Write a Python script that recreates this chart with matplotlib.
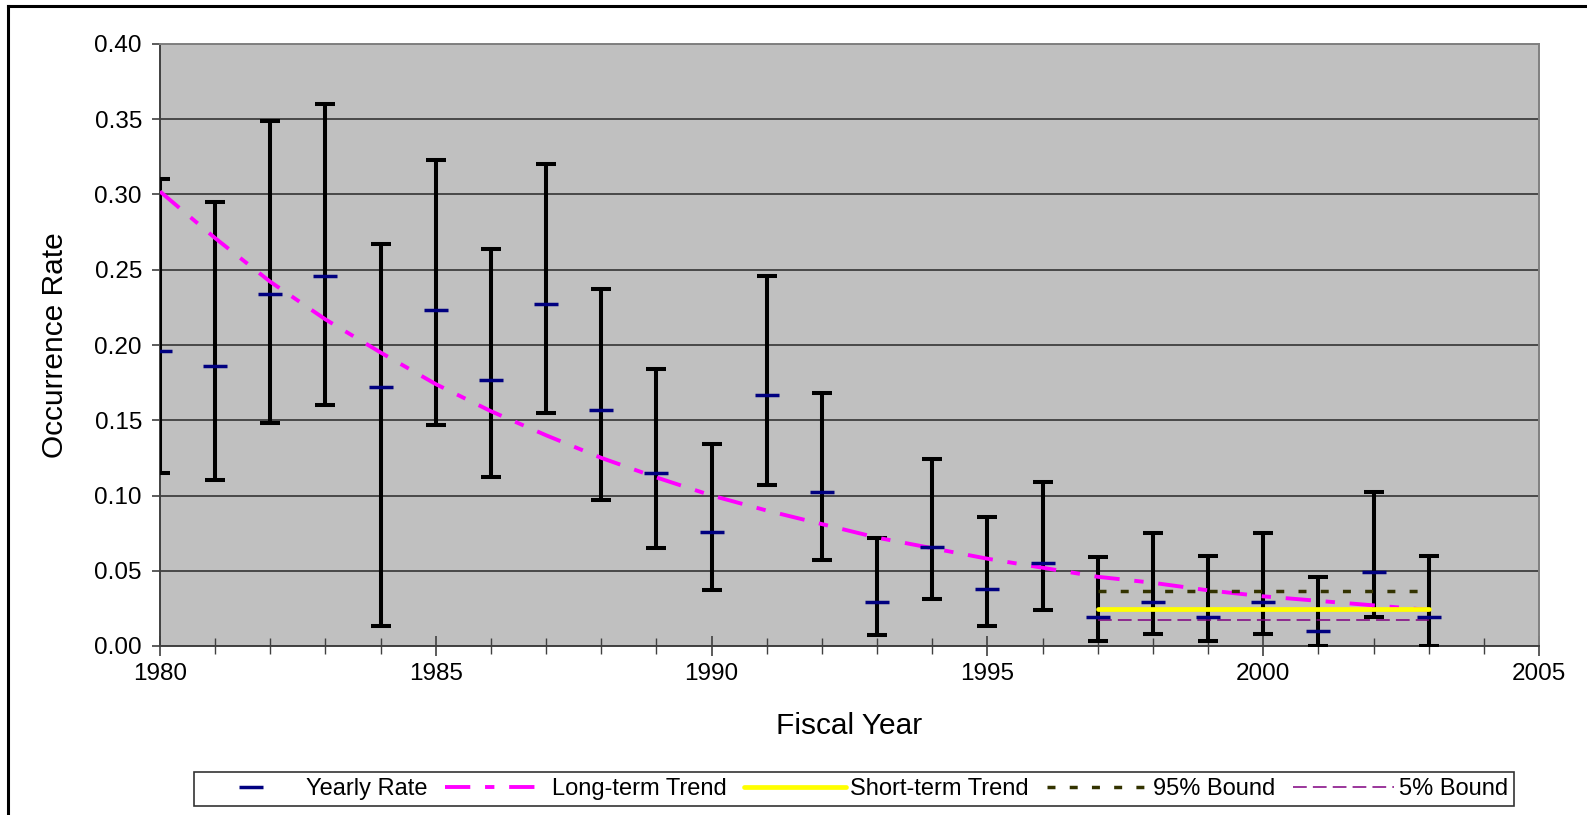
import matplotlib
matplotlib.use('Agg')
import matplotlib.pyplot as plt
from matplotlib.lines import Line2D
from matplotlib.ticker import MultipleLocator, FormatStrFormatter

plt.rcParams['font.family'] = ['Liberation Sans', 'DejaVu Sans']

years = [1980, 1981, 1982, 1983, 1984, 1985, 1986, 1987, 1988, 1989, 1990, 1991,
         1992, 1993, 1994, 1995, 1996, 1997, 1998, 1999, 2000, 2001, 2002, 2003]
rate = [0.196, 0.186, 0.234, 0.246, 0.172, 0.223, 0.177, 0.227, 0.157, 0.115, 0.076, 0.167,
        0.102, 0.029, 0.066, 0.038, 0.055, 0.0195, 0.029, 0.0195, 0.029, 0.010, 0.049, 0.0195]
upper = [0.310, 0.295, 0.349, 0.360, 0.267, 0.323, 0.264, 0.320, 0.237, 0.184, 0.134, 0.246,
         0.168, 0.072, 0.124, 0.086, 0.109, 0.059, 0.075, 0.060, 0.075, 0.046, 0.102, 0.060]
lower = [0.115, 0.110, 0.148, 0.160, 0.013, 0.147, 0.112, 0.155, 0.097, 0.065, 0.037, 0.107,
         0.057, 0.007, 0.031, 0.013, 0.024, 0.003, 0.008, 0.003, 0.008, 0.000, 0.019, 0.000]
trend = [0.302, 0.271, 0.242, 0.217, 0.195, 0.174, 0.156, 0.140, 0.125, 0.112, 0.100, 0.090,
         0.081, 0.072, 0.065, 0.058, 0.052, 0.046, 0.042, 0.037, 0.033, 0.030, 0.027, 0.024]

short_years = [1997, 2003]
short_trend = [0.0248, 0.0248]
bound_95 = [0.0364, 0.0364]
bound_5 = [0.0171, 0.0171]

MAGENTA_DASH = (0, (6.5, 3.8, 2.4, 3.8))
OLIVE_DASH = (0, (2.3, 4.1))
PURPLE_DASH = (0, (9, 4))

fig = plt.figure(figsize=(15.87, 8.15), dpi=100)
ax = fig.add_axes([160 / 1587, 1 - 646 / 815, 1379 / 1587, 602 / 815])
ax.set_facecolor('#c0c0c0')

yerr = [[r - lo for r, lo in zip(rate, lower)], [up - r for r, up in zip(rate, upper)]]
ax.errorbar(years, rate, yerr=yerr, fmt='none', ecolor='black', elinewidth=2.9,
            capsize=7.5, capthick=2.9, zorder=3)
ax.plot(years, trend, color='#ff00ff', lw=2.8, linestyle=MAGENTA_DASH, zorder=4)
ax.plot(short_years, short_trend, color='#ffff00', lw=3.4, solid_capstyle='round', zorder=5)
ax.plot(short_years, bound_95, color='#333300', lw=2.5, linestyle=OLIVE_DASH, zorder=5)
ax.plot(short_years, bound_5, color='#800080', lw=1.1, linestyle=PURPLE_DASH, zorder=5)
ax.plot(years, rate, linestyle='none', marker='_', markersize=17, mew=2.5,
        color='#000080', zorder=6)

ax.set_xlim(1980, 2005)
ax.set_ylim(0, 0.40)
ax.xaxis.set_major_locator(MultipleLocator(5))
ax.xaxis.set_minor_locator(MultipleLocator(1))
ax.yaxis.set_major_locator(MultipleLocator(0.05))
ax.yaxis.set_major_formatter(FormatStrFormatter('%.2f'))
ax.grid(axis='y', color='#484848', lw=1.4, zorder=1)
ax.set_axisbelow(True)

for side in ['left', 'bottom']:
    ax.spines[side].set_color('#404040')
    ax.spines[side].set_linewidth(1.4)
for side in ['top', 'right']:
    ax.spines[side].set_color('#808080')
    ax.spines[side].set_linewidth(1.4)

ax.tick_params(axis='y', direction='out', length=6, width=1.2, color='#404040',
               labelsize=17.5, pad=7)
ax.tick_params(axis='x', which='major', direction='inout', length=14, width=1.2,
               color='#404040', labelsize=17.5, pad=5)
ax.tick_params(axis='x', which='minor', direction='inout', length=11, width=1.0,
               color='#404040')

ax.set_xlabel('Fiscal Year', fontsize=21.5)
ax.set_ylabel('Occurrence Rate', fontsize=21.5)
ax.xaxis.set_label_coords(0.5, -0.110)
ax.yaxis.set_label_coords(-0.066, 0.50)

handles = [
    Line2D([], [], linestyle='none', marker='_', markersize=17, mew=2.5, color='#000080'),
    Line2D([], [], color='#ff00ff', lw=2.8, linestyle=MAGENTA_DASH),
    Line2D([], [], color='#ffff00', lw=3.4, solid_capstyle='round'),
    Line2D([], [], color='#333300', lw=2.5, linestyle=OLIVE_DASH),
    Line2D([], [], color='#800080', lw=1.1, linestyle=PURPLE_DASH),
]
labels = ['Yearly Rate', 'Long-term Trend', 'Short-term Trend', '95% Bound', '5% Bound']
leg = fig.legend(handles, labels, loc='center', bbox_to_anchor=(854 / 1587, 1 - 789 / 815),
                 ncol=5, fontsize=17, frameon=True, fancybox=False, shadow=False,
                 handlelength=4.3, handletextpad=0.2, columnspacing=0.75,
                 borderpad=0.25, borderaxespad=0)
leg.get_frame().set_edgecolor('black')
leg.get_frame().set_linewidth(1.2)

# outer chart border (only top and left visible in the crop)
fig.add_artist(Line2D([8 / 1587, 1], [1 - 6 / 815, 1 - 6 / 815], color='black', lw=2.2,
                      transform=fig.transFigure))
fig.add_artist(Line2D([8 / 1587, 8 / 1587], [0, 1 - 6 / 815], color='black', lw=2.2,
                      transform=fig.transFigure))

fig.savefig('out.png', dpi=100)
